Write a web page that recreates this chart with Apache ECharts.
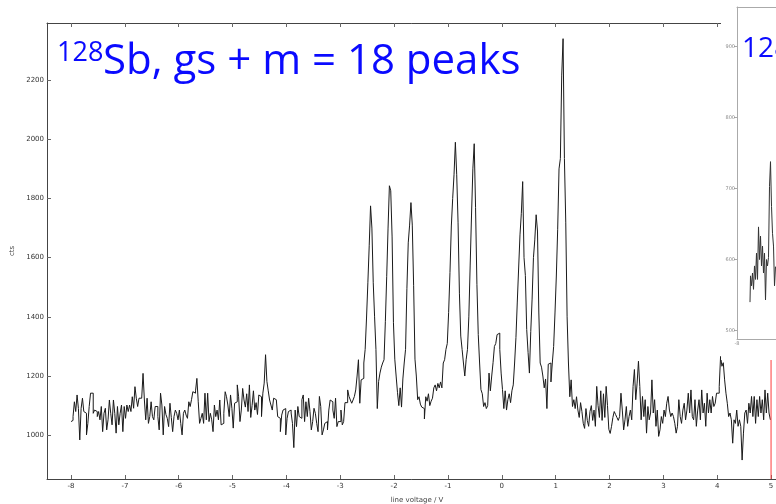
<!DOCTYPE html>
<html>
<head>
<meta charset="utf-8">
<script src="https://cdn.jsdelivr.net/npm/echarts@6/dist/echarts.min.js"></script>
<style>html,body{margin:0;padding:0;background:#fff}#c{width:776px;height:504px}</style>
</head>
<body>
<div id="c"></div>
<script>
// ---- data ----
const binStart = -8.0;
const binWidth = 0.025;
const countsLeft = [
1046,1050,1063,1113,1080,1136,1090,984,1091,1125,1080,1074,1001,1040,1097,1142,
1142,1074,1085,1080,1063,1080,1052,1097,1012,1074,1091,1018,1052,1119,1074,1035,
1119,1074,1007,1097,1035,1074,1102,1012,1097,1057,1102,1080,1102,1080,1130,1091,
1164,1125,1097,1125,1125,1130,1209,1119,1052,1125,1040,1063,1113,1063,1052,1097,
1097,1063,1018,1142,1102,1001,1097,1070,1057,1029,1108,1060,1012,1063,1085,1074,
1052,1085,1040,1001,1074,1085,1068,1057,1113,1097,1120,1147,1142,1150,1192,1113,
1040,1057,1074,1040,1142,1052,1142,1046,1074,1052,1012,1102,1063,1085,1052,1119,
1035,1040,1074,1147,1130,1102,1063,1136,1091,1024,1108,1113,1170,1130,1046,1085,
1158,1119,1095,1140,1080,1170,1060,1100,1150,1085,1110,1070,
1136,1130,1063,1142,1176,1272,1182,1150,1119,1102,1085,1125,1120,1125,1063,1057,
1012,1068,1085,1090,1001,1057,1080,1085,1075,1040,958,1085,1029,1097,1063,1057,
1120,1136,1046,1113,1063,1125,1080,1018,1046,1091,1074,1040,1012,1131,1097,1001,
1018,1040,1046,1018,1085,1119,1113,1085,1057,1125,1029,1046
];
const countsPeaks = [
1046,1085,1035,1046,1110,1110,1153,1131,1119,1108,1119,1131,1153,1200,1255,1108,1187,1192,
1244,1290,1396,1515,1640,1775,1700,1515,1400,1290,1090,1182,1210,1230,1244,1255,
1385,1537,1700,1843,1826,1670,1380,1257,1200,1145,1100,1160,1095,1190,1244,1290,
1495,1650,1710,1786,1710,1505,1257,1200,1120,1130,1105,1095,1090,1055,1130,1115,
1140,1100,1115,1125,1160,1170,1150,1175,1160,1180,1160,1244,1255,1290,1310,1415,
1550,1707,1800,1880,1990,1880,1720,1480,1335,1290,1244,1200,1255,1290,1400,1575,
1744,1900,1985,1770,1510,1340,1244,1154,1140,1097,1110,1090,1100,1210,1150,1200,
1245,1300,1310,1340,1345,1290,1210,1154,1090,1150,1085,1120,1140,1110,1150,1170,
1244,1330,1450,1565,1677,1750,1857,1600,1540,1357,1280,1210,1350,1460,1600,1660,
1745,1690,1413,1244,1230,1200,1160,1190,1090,1240,1244,1180,1244,1300,1413,1538,
1696,1900,1935,2217,2340,1935,1720,1400,1244,1130,1187,1097,1120,1090,1130,1085,
1060,1110,1080,1040,1023,1090,1050,1030,1080,1100,1050,1085,1030,1165,1100,1060,
1150,1050,1140,1060,1165,1100,1020,1006,1030,1060,1080,1070,1060,1050
];
const countsRight = [
1063,1142,1085,1018,1052,1097,1030,1063,1085,1052,1165,1222,1120,1176,1250,1165,
1052,1131,1063,1120,1007,1097,1052,1075,1187,1075,1120,1030,1085,996,1018,1063,
1040,1085,1063,1108,1131,1085,1063,1075,1063,1040,1007,1030,1120,1063,1040,1085,
1108,1052,1085,1142,1075,1153,1063,1052,1120,1030,1085,1120,1052,1153,1075,1108,
1030,1142,1075,1120,1075,1131,1097,1108,1142,1142,1165,1266,1233,1245,1187,1142,
1108,1063,1075,1052,973,1052,1040,1085,1030,1052,1030,916,1007,1075,1085,1040,
1108,1075,1131,1063,1131,1040,1120,1063,1131,1075,1120,1052,1153,1075,1142,1075,1052
];
const xTicks = [-8,-7,-6,-5,-4,-3,-2,-1,0,1,2,3,4,5];
const yTicks = [1000,1200,1400,1600,1800,2000,2200];
const markerVoltage = 5;

const insetStart = -7.675;
const insetBin = 0.025;
const insetCounts = [540,577,563,581,558,591,572,609,572,646,600,633,591,619,581,609,543,600,591,603,703,738,675,637,619,563,590];
const insetYTicks = [500,600,700,800,900];
const insetXTicks = [-8];

// ---- build ----
const counts = countsLeft.concat(countsPeaks, countsRight);
const mainData = counts.map((c, i) => [binStart + i * binWidth, c]);
const insetData = insetCounts.map((c, i) => [insetStart + i * insetBin, c]);
const plain = v => String(v);
const yMin = 852, yMax = 2393;

const chart = echarts.init(document.getElementById('c'), null, {renderer: 'canvas'});
const axisFont = 'DejaVu Sans';
chart.setOption({
  animation: false,
  backgroundColor: '#fff',
  grid: [
    {left: 47, top: 23, width: 740, height: 456, containLabel: false, outerBoundsMode: 'none'},
    {left: 737, top: 7, width: 320, height: 332, containLabel: false, outerBoundsMode: 'none'}
  ],
  xAxis: [
    {type: 'value', gridIndex: 0, min: -8.446, max: 5.296, position: 'bottom',
     axisLine: {show: true, onZero: false, lineStyle: {color: '#444', width: 1}},
     axisTick: {show: true, inside: true, length: 4, customValues: xTicks, lineStyle: {color: '#666'}},
     axisLabel: {show: true, customValues: xTicks, formatter: plain, fontSize: 7, fontFamily: axisFont, color: '#333', margin: 4},
     splitLine: {show: false},
     name: 'line voltage / V', nameLocation: 'middle', nameGap: 18,
     nameTextStyle: {fontSize: 7, fontFamily: axisFont, color: '#444'}},
    {type: 'value', gridIndex: 0, min: -8.446, max: 5.296, position: 'top',
     axisLine: {show: true, onZero: false, lineStyle: {color: '#444', width: 1}},
     axisTick: {show: true, inside: true, length: 4, customValues: xTicks, lineStyle: {color: '#666'}},
     axisLabel: {show: false}, splitLine: {show: false}},
    {type: 'value', gridIndex: 1, min: -8, max: 0, position: 'bottom', z: 20,
     axisLine: {show: true, onZero: false, lineStyle: {color: '#aaa', width: 1}},
     axisTick: {show: false},
     axisLabel: {show: true, customValues: insetXTicks, formatter: plain, fontSize: 5, fontFamily: axisFont, color: '#888', margin: 2},
     splitLine: {show: false}},
    {type: 'value', gridIndex: 1, min: -8, max: 0, position: 'top', z: 20,
     axisLine: {show: true, onZero: false, lineStyle: {color: '#aaa', width: 1}},
     axisTick: {show: false}, axisLabel: {show: false}, splitLine: {show: false}}
  ],
  yAxis: [
    {type: 'value', gridIndex: 0, min: yMin, max: yMax,
     axisLine: {show: true, onZero: false, lineStyle: {color: '#444', width: 1}},
     axisTick: {show: true, inside: true, length: 4, customValues: yTicks, lineStyle: {color: '#666'}},
     axisLabel: {show: true, customValues: yTicks, formatter: plain, fontSize: 7, fontFamily: axisFont, color: '#333', margin: 3},
     splitLine: {show: false},
     name: 'cts', nameLocation: 'middle', nameGap: 30, nameRotate: 90,
     nameTextStyle: {fontSize: 7, fontFamily: axisFont, color: '#444'}},
    {type: 'value', gridIndex: 1, min: 488, max: 956, z: 20,
     axisLine: {show: true, onZero: false, lineStyle: {color: '#aaa', width: 1}},
     axisTick: {show: true, inside: false, length: 3, customValues: insetYTicks, lineStyle: {color: '#aaa'}},
     axisLabel: {show: true, customValues: insetYTicks, formatter: plain, fontSize: 5, fontFamily: axisFont, color: '#888', margin: 2},
     splitLine: {show: false}}
  ],
  series: [
    {type: 'line', xAxisIndex: 0, yAxisIndex: 0, data: mainData, step: 'middle',
     showSymbol: false, symbol: 'none', z: 2,
     lineStyle: {color: '#1a1a1a', width: 1}},
    {type: 'line', xAxisIndex: 0, yAxisIndex: 0, data: [[markerVoltage, yMin], [markerVoltage, yMax]],
     showSymbol: false, symbol: 'none', z: 5, silent: true,
     lineStyle: {color: '#ff3b3b', width: 1}},
    {type: 'line', xAxisIndex: 2, yAxisIndex: 1, data: insetData, step: 'middle',
     showSymbol: false, symbol: 'none', z: 20,
     lineStyle: {color: '#333', width: 1}}
  ],
  graphic: [
    {type: 'rect', z: 10, shape: {x: 721, y: 0, width: 60, height: 360}, style: {fill: '#fff'}},
    {type: 'text', z: 30, x: 57, y: 53,
     style: {text: '128', fontSize: 27, fontFamily: 'Open Sans', fill: '#0a0aff', textVerticalAlign: 'middle', verticalAlign: 'middle'}},
    {type: 'text', z: 30, x: 103, y: 62,
     style: {text: 'Sb, gs + m = 18 peaks', fontSize: 42, fontFamily: 'Open Sans', fill: '#0a0aff', textVerticalAlign: 'middle', verticalAlign: 'middle'}},
    {type: 'text', z: 30, x: 742, y: 49,
     style: {text: '128', fontSize: 28, fontFamily: 'Open Sans', fill: '#0a0aff', textVerticalAlign: 'middle', verticalAlign: 'middle'}}
  ]
});
</script>
</body>
</html>
